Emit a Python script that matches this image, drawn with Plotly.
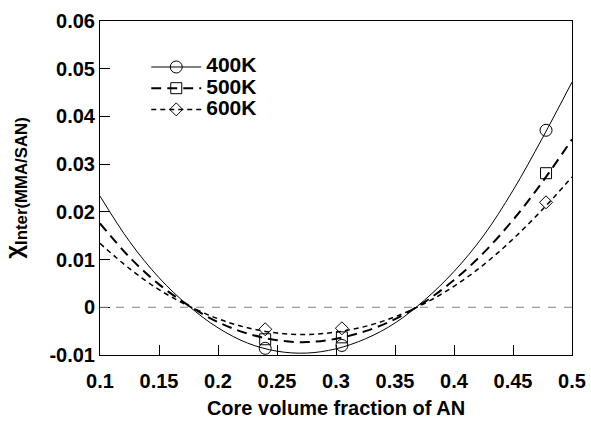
import plotly.graph_objects as go

# Curve values (x = core volume fraction of AN)
curve_x = [0.1, 0.125, 0.15, 0.175, 0.2, 0.225, 0.25, 0.275, 0.3, 0.325, 0.35,
           0.375, 0.4, 0.425, 0.45, 0.475, 0.5]
curve_400 = [0.0233, 0.0138, 0.0062, 0.0003, -0.0043, -0.0075, -0.0092, -0.0096,
             -0.0087, -0.0066, -0.0033, 0.0015, 0.0075, 0.0150, 0.0245, 0.0355, 0.0472]
curve_500 = [0.0176, 0.0105, 0.0048, 0.0004, -0.0031, -0.0055, -0.0069, -0.0073,
             -0.0066, -0.0050, -0.0025, 0.0011, 0.0057, 0.0114, 0.0183, 0.0263, 0.0352]
curve_600 = [0.0134, 0.0081, 0.0037, 0.0003, -0.0024, -0.0043, -0.0054, -0.0057,
             -0.0052, -0.0040, -0.0020, 0.0008, 0.0044, 0.0089, 0.0143, 0.0205, 0.0273]

# Data points
point_x = [0.24, 0.305, 0.478]
point_400 = [-0.0086, -0.0080, 0.0371]
point_500 = [-0.0067, -0.0063, 0.0281]
point_600 = [-0.0046, -0.0044, 0.0220]

series_names = ["400K", "500K", "600K"]
x_ticks = [0.1, 0.15, 0.2, 0.25, 0.3, 0.35, 0.4, 0.45, 0.5]
x_tick_text = ["0.1", "0.15", "0.2", "0.25", "0.3", "0.35", "0.4", "0.45", "0.5"]
y_ticks = [-0.01, 0, 0.01, 0.02, 0.03, 0.04, 0.05, 0.06]
y_tick_text = ["-0.01", "0", "0.01", "0.02", "0.03", "0.04", "0.05", "0.06"]

styles = [
    dict(dash="solid", width=1, symbol="circle-open", size=12),
    dict(dash="10px,6px", width=2, symbol="square-open", size=11),
    dict(dash="5px,4px", width=1.5, symbol="diamond-open", size=10),
]
curves = [curve_400, curve_500, curve_600]
points = [point_400, point_500, point_600]

FONT = "Liberation Sans, Arial, sans-serif"
fig = go.Figure()

for name, cy, py, st in zip(series_names, curves, points, styles):
    fig.add_trace(go.Scatter(
        x=curve_x, y=cy, mode="lines", line=dict(color="black", width=st["width"],
                                                dash=st["dash"], shape="spline"),
        showlegend=False, hoverinfo="skip"))
    fig.add_trace(go.Scatter(
        x=point_x, y=py, mode="markers",
        marker=dict(symbol=st["symbol"], size=st["size"], color="black",
                    line=dict(width=1, color="black")),
        showlegend=False))
    # legend entry
    fig.add_trace(go.Scatter(
        x=[None], y=[None], mode="lines+markers",
        name="<span style='font-size:21px'>" + name + "</span>",
        line=dict(color="black", width=st["width"], dash=st["dash"]),
        marker=dict(symbol=st["symbol"], size=st["size"], color="black",
                    line=dict(width=1, color="black"))))

fig.add_hline(y=0, line=dict(color="#888888", width=1, dash="8px,8px"))

fig.update_layout(
    width=591, height=424,
    margin=dict(l=100, r=19, t=21, b=69, autoexpand=False),
    paper_bgcolor="white", plot_bgcolor="white",
    font=dict(family=FONT, color="black", size=18),
    showlegend=True,
    legend=dict(x=0.098, y=0.909, xanchor="left", yanchor="top",
                bgcolor="rgba(0,0,0,0)", borderwidth=0,
                font=dict(family=FONT, size=14, weight="bold"),
                itemwidth=50),
    xaxis=dict(range=[0.1, 0.5], tickvals=x_ticks, ticktext=x_tick_text,
               ticks="inside", ticklen=10, tickcolor="black", tickwidth=1,
               showline=True, linecolor="black", linewidth=1, mirror=True,
               showgrid=False, zeroline=False, ticklabelstandoff=8,
               tickfont=dict(family=FONT, size=20, weight="bold"),
               title=dict(text="Core volume fraction of AN",
                          font=dict(family=FONT, size=20, weight="bold"),
                          standoff=9)),
    yaxis=dict(range=[-0.01, 0.06], tickvals=y_ticks, ticktext=y_tick_text,
               ticks="inside", ticklen=10, tickcolor="black", tickwidth=1,
               showline=True, linecolor="black", linewidth=1, mirror=True,
               showgrid=False, zeroline=False,
               tickfont=dict(family=FONT, size=20, weight="bold"),
               title=dict(text="χ<sub>Inter(MMA/SAN)</sub>",
                          font=dict(family=FONT, size=24, weight="bold"),
                          standoff=22)),
)

fig.write_html("out.html")
